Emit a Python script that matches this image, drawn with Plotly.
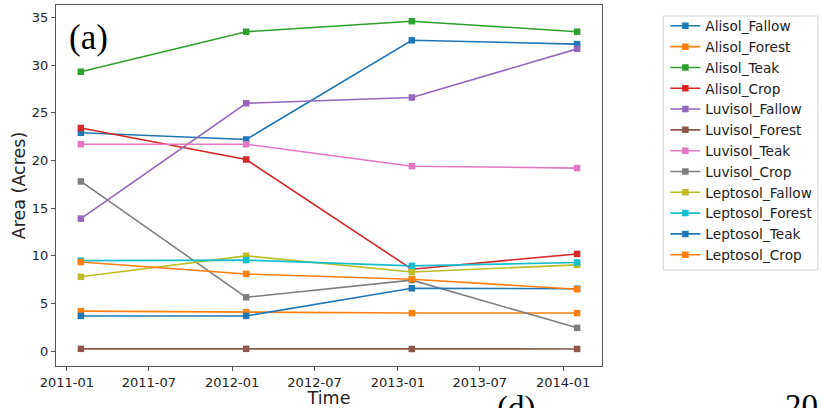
import plotly.graph_objects as go

# Survey dates (one observation per year)
dates = ["2011-02-01", "2012-02-01", "2013-02-01", "2014-02-01"]

# Area per soil / land-use class, in acres
alisol_fallow = [22.9, 22.2, 32.6, 32.2]
alisol_forest = [4.2, 4.1, 4.0, 4.0]
alisol_teak = [29.3, 33.5, 34.6, 33.5]
alisol_crop = [23.4, 20.1, 8.6, 10.2]
luvisol_fallow = [13.9, 26.0, 26.6, 31.7]
luvisol_forest = [0.25, 0.25, 0.23, 0.24]
luvisol_teak = [21.7, 21.7, 19.4, 19.2]
luvisol_crop = [17.8, 5.65, 7.45, 2.45]
leptosol_fallow = [7.8, 10.0, 8.3, 9.05]
leptosol_forest = [9.5, 9.55, 8.95, 9.3]
leptosol_teak = [3.7, 3.7, 6.6, 6.55]
leptosol_crop = [9.35, 8.1, 7.55, 6.5]

series = [
    ("Alisol_Fallow", alisol_fallow, "#1f77b4"),
    ("Alisol_Forest", alisol_forest, "#ff7f0e"),
    ("Alisol_Teak", alisol_teak, "#2ca02c"),
    ("Alisol_Crop", alisol_crop, "#d62728"),
    ("Luvisol_Fallow", luvisol_fallow, "#9467bd"),
    ("Luvisol_Forest", luvisol_forest, "#8c564b"),
    ("Luvisol_Teak", luvisol_teak, "#e377c2"),
    ("Luvisol_Crop", luvisol_crop, "#7f7f7f"),
    ("Leptosol_Fallow", leptosol_fallow, "#bcbd22"),
    ("Leptosol_Forest", leptosol_forest, "#17becf"),
    ("Leptosol_Teak", leptosol_teak, "#1f77b4"),
    ("Leptosol_Crop", leptosol_crop, "#ff7f0e"),
]

fig = go.Figure()
for name, vals, color in series:
    fig.add_trace(go.Scatter(
        x=dates, y=vals, name=name, mode="lines+markers",
        line=dict(color=color, width=1.6),
        marker=dict(symbol="square", size=6.5, color=color),
    ))

axis_color = "#555555"
font_family = "DejaVu Sans"

fig.update_layout(
    width=822, height=408,
    margin=dict(l=56, r=219, t=5, b=42),
    paper_bgcolor="white", plot_bgcolor="white",
    font=dict(family=font_family, size=13, color="#222222"),
    showlegend=True,
    legend=dict(
        x=1.114, y=0.985, xanchor="left", yanchor="top",
        borderwidth=0, bgcolor="rgba(0,0,0,0)",
        font=dict(family=font_family, size=13.7, color="#222222"),
        itemwidth=30, tracegroupgap=0,
    ),
    xaxis=dict(
        type="date",
        range=["2010-12-08", "2014-03-28"],
        tick0="2011-01-01", dtick="M6", tickformat="%Y-%m",
        ticks="outside", ticklen=4, tickwidth=1, tickcolor=axis_color,
        showgrid=False, zeroline=False,
        showline=True, linecolor=axis_color, linewidth=1, mirror=True,
        tickfont=dict(size=13),
        title=dict(text="Time", font=dict(size=17.5), standoff=1),
    ),
    yaxis=dict(
        range=[-1.55, 36.3],
        tickvals=[0, 5, 10, 15, 20, 25, 30, 35],
        ticks="outside", ticklen=4, tickwidth=1, tickcolor=axis_color,
        showgrid=False, zeroline=False,
        showline=True, linecolor=axis_color, linewidth=1, mirror=True,
        tickfont=dict(size=13),
        title=dict(text="Area (Acres)", font=dict(size=17.5), standoff=1),
    ),
)

# Legend frame: light border behind the entries
fig.add_shape(type="rect", xref="paper", yref="paper",
              x0=(664 - 56) / 546.7, x1=(819 - 56) / 546.7,
              y0=(366 - 270) / 361, y1=(366 - 16) / 361,
              line=dict(color="#d0d0d0", width=1), fillcolor="white",
              layer="below")

# Panel letters
serif = "Liberation Serif"
fig.add_annotation(text="(a)", xref="paper", yref="paper", x=0.059, y=0.91,
                   xanchor="center", yanchor="middle", showarrow=False,
                   font=dict(family=serif, size=35, color="black"))
fig.add_annotation(text="(d)", xref="paper", yref="paper", x=0.843, y=-0.118,
                   xanchor="center", yanchor="middle", showarrow=False,
                   font=dict(family=serif, size=33, color="black"))
fig.add_annotation(text="20", xref="paper", yref="paper", x=1.365, y=-0.11,
                   xanchor="center", yanchor="middle", showarrow=False,
                   font=dict(family=serif, size=33, color="black"))

fig.write_html("out.html", config={"displayModeBar": False})
